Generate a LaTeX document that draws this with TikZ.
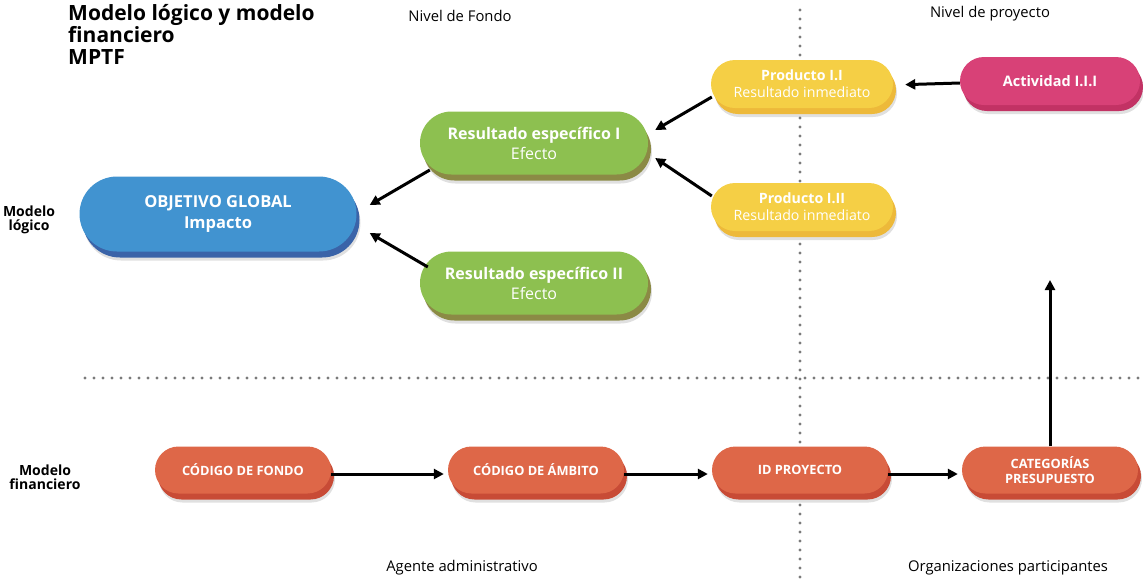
\documentclass[tikz,border=0pt]{standalone}
\usepackage{fontspec}
\setmainfont{Open Sans}
\usetikzlibrary{shapes.misc,shadows,arrows.meta,calc}
\definecolor{cBlue}{HTML}{4193D0}
\definecolor{cBlueD}{HTML}{3A63A8}
\definecolor{cGreen}{HTML}{8DC050}
\definecolor{cGreenD}{HTML}{8B8A45}
\definecolor{cYellow}{HTML}{F5CF45}
\definecolor{cYellowD}{HTML}{EDB93A}
\definecolor{cPink}{HTML}{D84177}
\definecolor{cPinkD}{HTML}{C23264}
\definecolor{cOrange}{HTML}{DE6748}
\definecolor{cOrangeD}{HTML}{C84B36}
\definecolor{cDot}{HTML}{7A7A7A}
\tikzset{
  pill/.style={rounded rectangle, draw=none, text=white, align=center, inner sep=0pt},
  pillshadow/.style={
    drop shadow={fill=black, opacity=.12, shadow xshift=4pt, shadow yshift=-9pt},
    drop shadow={fill=#1, opacity=1, shadow xshift=3pt, shadow yshift=-6pt}},
  bluepill/.style={pill, fill=cBlue, pillshadow=cBlueD, minimum width=277pt, minimum height=75pt,
    font=\fontsize{16.5}{21}\selectfont\bfseries},
  greenpill/.style={pill, fill=cGreen, pillshadow=cGreenD, minimum width=228pt, minimum height=63pt,
    font=\fontsize{16}{20}\selectfont},
  yellowpill/.style={pill, fill=cYellow, pillshadow=cYellowD, minimum width=182pt, minimum height=48pt,
    font=\fontsize{14.2}{17}\selectfont},
  pinkpill/.style={pill, fill=cPink, pillshadow=cPinkD, minimum width=180pt, minimum height=48pt,
    font=\fontsize{14.5}{16}\selectfont\bfseries},
  orangepill/.style={pill, fill=cOrange, pillshadow=cOrangeD, minimum width=176pt, minimum height=47pt,
    font=\fontsize{12.8}{15}\selectfont\bfseries},
  arr/.style={line width=3pt, -{Triangle[length=10pt,width=10pt]}},
  dotline/.style={cDot, line width=3.2pt, line cap=round, dash pattern=on 0pt off 9pt},
  lbl/.style={font=\fontsize{14.8}{16}\selectfont, text=black},
  side/.style={font=\fontsize{14}{14.5}\selectfont\bfseries, align=center, text=black, inner sep=0pt},
}
\begin{document}
\begin{tikzpicture}[x=1pt,y=-1pt]
\useasboundingbox (0,0) rectangle (1143,579);
% dotted separators
\coordinate (vtop) at (800,10);
\coordinate (vbot) at (800,579);
\coordinate (hleft) at (85,378);
\coordinate (hright) at (1140,378);
\draw[dotline] (vtop) -- (vbot);
\draw[dotline] (hleft) -- (hright);
% title and labels
\node[anchor=north west, align=left, font=\fontsize{21}{22}\selectfont\bfseries, inner sep=0pt] (title) at (68,4)
  {Modelo lógico y modelo\\financiero\\MPTF};
\node[lbl] (nf) at (460,16) {Nivel de Fondo};
\node[lbl] (np) at (990,14) {Nivel de proyecto};
\node[lbl] (aa) at (462,568) {Agente administrativo};
\node[lbl] (op) at (1008,568) {Organizaciones participantes};
\node[side] (ml) at (29,220) {Modelo\\lógico};
\node[side] (mf) at (45,477) {Modelo\\financiero};
% logic model nodes
\node[bluepill] (obj) at (218,214) {OBJETIVO GLOBAL\\Impacto};
\node[greenpill] (res1) at (534,143) {\textbf{Resultado específico I}\\Efecto};
\node[greenpill] (res2) at (534,283) {\textbf{Resultado específico II}\\Efecto};
\node[yellowpill] (p1) at (802,84) {\textbf{Producto I.I}\\Resultado inmediato};
\node[yellowpill] (p2) at (802,207) {\textbf{Producto I.II}\\Resultado inmediato};
\node[pinkpill] (act) at (1050,81) {Actividad I.I.I};
% financial model nodes
\node[orangepill] (cdf) at (243,470) {CÓDIGO DE FONDO};
\node[orangepill] (cda) at (536,470) {CÓDIGO DE ÁMBITO};
\node[orangepill] (idp) at (800,470) {ID PROYECTO};
\node[orangepill] (cat) at (1050,470) {CATEGORÍAS\\PRESUPUESTO};
\coordinate (up) at (1050,280);
% connectors
\draw[arr] ($(res1.west)+(10,27)$) -- ($(obj.east)+(13,-9)$);
\draw[arr] ($(res2.west)+(8,-16)$) -- ($(obj.east)+(13,19)$);
\draw[arr] ($(p1.west)+(1,13)$) -- ($(res1.east)+(7,-13)$);
\draw[arr] ($(p2.west)+(1,-11)$) -- ($(res1.east)+(7,15)$);
\draw[arr, shorten >=12pt] ($(act.west)+(0,2)$) -- ($(p1.east)+(0,1)$);
\draw[arr, shorten >=4pt] ($(cdf.east)+(0,4)$) -- ($(cda.west)+(0,4)$);
\draw[arr, shorten >=4pt] ($(cda.east)+(0,4)$) -- ($(idp.west)+(0,4)$);
\draw[arr, shorten >=4pt] ($(idp.east)+(0,4)$) -- ($(cat.west)+(0,4)$);
\draw[arr] (cat.north) -- (up);
\end{tikzpicture}
\end{document}
